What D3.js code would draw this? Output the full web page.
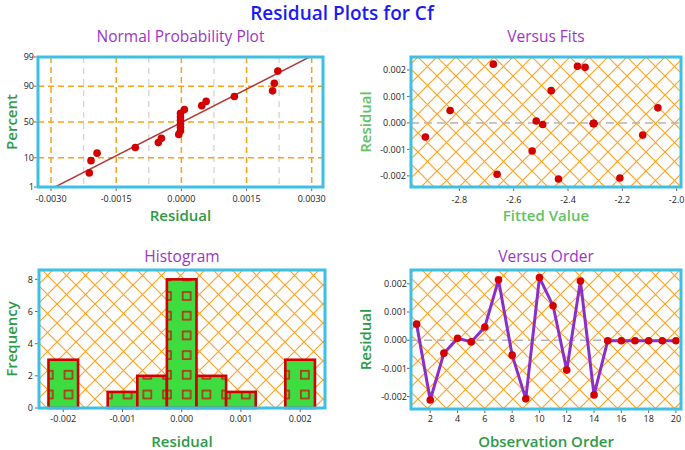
<!DOCTYPE html>
<html>
<head>
<meta charset="utf-8">
<script src="https://cdn.jsdelivr.net/npm/d3@7"></script>
<style>
  html, body { margin: 0; padding: 0; background: #ffffff; }
  svg { display: block; }
  text { font-family: "Open Sans", "Noto Sans", sans-serif; }
</style>
</head>
<body>
<svg id="chart" width="685" height="450"></svg>
<script>
// ---------------- DATA ----------------
const observations = [1, 2, 3, 4, 5, 6, 7, 8, 9, 10, 11, 12, 13, 14, 15, 16, 17, 18, 19, 20];
const residuals = [0.00057, -0.00212, -0.00046, 0.00007, -0.00006, 0.00047, 0.00214, -0.00053, -0.00208, 0.00222,
                   0.00122, -0.00106, 0.00210, -0.00194, -0.00002, -0.00002, -0.00002, -0.00002, -0.00002, -0.00002];
const fittedValues = [-2.069, -2.435, -2.125, -2.517, -2.493, -2.834, -2.365, -2.925, -2.209, -2.675,
                      -2.462, -2.532, -2.337, -2.661, -2.306, -2.306, -2.306, -2.306, -2.306, -2.306];
const nppPercent = [3.43, 8.33, 13.24, 18.14, 23.04, 27.94, 32.84, 37.75, 42.65, 47.55,
                    52.45, 57.35, 62.25, 67.16, 72.06, 76.96, 81.86, 86.76, 91.67, 96.57];
const histBinCenters = [-0.002, -0.0015, -0.001, -0.0005, 0.0, 0.0005, 0.001, 0.0015, 0.002];
const histCounts = [3, 0, 1, 2, 8, 2, 1, 0, 3];
const histBinWidth = 0.0005;

const nppXTicks = [-0.003, -0.0015, 0, 0.0015, 0.003];
const nppXTickLabels = ["-0.0030", "-0.0015", "0.0000", "0.0015", "0.0030"];
const nppXMinorTicks = [-0.00225, -0.00075, 0.00075, 0.00225];
const nppYTicks = [1, 10, 50, 90, 99];
const fitsXTicks = [-2.8, -2.6, -2.4, -2.2, -2.0];
const fitsXTickLabels = ["-2.8", "-2.6", "-2.4", "-2.2", "-2.0"];
const residTicks = [0.002, 0.001, 0, -0.001, -0.002];
const residTickLabels = ["0.002", "0.001", "0.000", "-0.001", "-0.002"];
const histXTicks = [-0.002, -0.001, 0, 0.001, 0.002];
const histXTickLabels = ["-0.002", "-0.001", "0.000", "0.001", "0.002"];
const histYTicks = [0, 2, 4, 6, 8];
const orderXTicks = [2, 4, 6, 8, 10, 12, 14, 16, 18, 20];

// ---------------- HELPERS ----------------
function probit(p) {
  // Acklam inverse normal CDF
  const a = [-3.969683028665376e+01, 2.209460984245205e+02, -2.759285104469687e+02, 1.383577518672690e+02, -3.066479806614716e+01, 2.506628277459239e+00];
  const b = [-5.447609879822406e+01, 1.615858368580409e+02, -1.556989798598866e+02, 6.680131188771972e+01, -1.328068155288572e+01];
  const c = [-7.784894002430293e-03, -3.223964580411365e-01, -2.400758277161838e+00, -2.549732539343734e+00, 4.374664141464968e+00, 2.938163982698783e+00];
  const d = [7.784695709041462e-03, 3.224671290700398e-01, 2.445134137142996e+00, 3.754408661907416e+00];
  const pl = 0.02425, ph = 1 - pl;
  let q, r;
  if (p < pl) {
    q = Math.sqrt(-2 * Math.log(p));
    return (((((c[0]*q+c[1])*q+c[2])*q+c[3])*q+c[4])*q+c[5]) / ((((d[0]*q+d[1])*q+d[2])*q+d[3])*q+1);
  } else if (p <= ph) {
    q = p - 0.5; r = q * q;
    return (((((a[0]*r+a[1])*r+a[2])*r+a[3])*r+a[4])*r+a[5])*q / (((((b[0]*r+b[1])*r+b[2])*r+b[3])*r+b[4])*r+1);
  } else {
    q = Math.sqrt(-2 * Math.log(1 - p));
    return -(((((c[0]*q+c[1])*q+c[2])*q+c[3])*q+c[4])*q+c[5]) / ((((d[0]*q+d[1])*q+d[2])*q+d[3])*q+1);
  }
}

const COL = {
  frame: "#3cc0e6",
  orange: "#f7a21b",
  hatch: "#ffa321",
  red: "#d20000",
  green: "#3fdc3f",
  title: "#1c1cf0",
  sub: "#9b35c9",
  axisDark: "#2e9a46",
  axisLight: "#62c262",
  tick: "#222",
  purple: "#8b2fc9",
  fitLine: "#b03a3a",
  zero: "#b4b4b4"
};

const svg = d3.select("#chart");
const defs = svg.append("defs");

// crosshatch pattern
const hp = defs.append("pattern").attr("id", "hatch").attr("patternUnits", "userSpaceOnUse")
  .attr("width", 19).attr("height", 19);
hp.append("rect").attr("width", 19).attr("height", 19).attr("fill", "#fff");
hp.append("path").attr("d", "M-2,-2 L21,21 M-2,21 L21,-2")
  .attr("stroke", COL.hatch).attr("stroke-width", 1.15).attr("fill", "none");

// bar pattern (green with red square outlines)
const sp = defs.append("pattern").attr("id", "sq").attr("patternUnits", "userSpaceOnUse")
  .attr("x", 58.65).attr("y", 364.95).attr("width", 19.7).attr("height", 19.7);
sp.append("rect").attr("width", 19.7).attr("height", 19.7).attr("fill", COL.green);
sp.append("rect").attr("x", 5.85).attr("y", 5.85).attr("width", 8).attr("height", 8)
  .attr("fill", "none").attr("stroke", "#c81414").attr("stroke-width", 1.4);

function clip(id, b) {
  defs.append("clipPath").attr("id", id).append("rect")
    .attr("x", b.l).attr("y", b.t).attr("width", b.r - b.l).attr("height", b.b - b.t);
}

function frame(b) {
  svg.append("rect").attr("x", b.l).attr("y", b.t).attr("width", b.r - b.l).attr("height", b.b - b.t)
    .attr("fill", "none").attr("stroke", COL.frame).attr("stroke-width", 3);
}

function xAxis(scale, b, ticks, labels, y) {
  const g = svg.append("g");
  ticks.forEach((t, i) => {
    const x = scale(t);
    g.append("line").attr("x1", x).attr("x2", x).attr("y1", b.b + 1.5).attr("y2", b.b + 4)
      .attr("stroke", "#666").attr("stroke-width", 1);
    g.append("text").attr("x", x).attr("y", y).attr("text-anchor", "middle")
      .attr("font-size", 9).attr("fill", COL.tick).text(labels[i]);
  });
}
function yAxis(scale, b, ticks, labels, xEnd) {
  const g = svg.append("g");
  ticks.forEach((t, i) => {
    const y = scale(t);
    g.append("line").attr("x1", b.l - 1.5).attr("x2", b.l - 4).attr("y1", y).attr("y2", y)
      .attr("stroke", "#666").attr("stroke-width", 1);
    g.append("text").attr("x", xEnd).attr("y", y + 3.2).attr("text-anchor", "end")
      .attr("font-size", 9).attr("fill", COL.tick).text(labels[i]);
  });
}
function titles(b, title, titleY, xlab, xlabY, xcol, ylab, ylabX, ycol) {
  const cx = (b.l + b.r) / 2, cy = (b.t + b.b) / 2;
  svg.append("text").attr("x", cx).attr("y", titleY).attr("text-anchor", "middle")
    .attr("font-size", 15.5).attr("fill", COL.sub).text(title);
  svg.append("text").attr("x", cx).attr("y", xlabY).attr("text-anchor", "middle")
    .attr("font-size", 15).attr("font-weight", 600).attr("fill", xcol).text(xlab);
  svg.append("text").attr("transform", `translate(${ylabX},${cy}) rotate(-90)`).attr("text-anchor", "middle")
    .attr("font-size", 15).attr("font-weight", 600).attr("fill", ycol).text(ylab);
}

// Main title
svg.append("text").attr("x", 342).attr("y", 20).attr("text-anchor", "middle")
  .attr("font-size", 19).attr("font-weight", 600).attr("fill", COL.title).text("Residual Plots for Cf");

// ---------------- PANEL 1: Normal probability plot ----------------
{
  const b = { l: 38, r: 323, t: 57, b: 187 };
  clip("c1", b);
  const x = d3.scaleLinear().domain([-0.0033, 0.00326]).range([b.l, b.r]);
  const y = d3.scaleLinear().domain([probit(0.01), probit(0.99)]).range([b.b, b.t]);
  svg.append("rect").attr("x", b.l).attr("y", b.t).attr("width", b.r - b.l).attr("height", b.b - b.t).attr("fill", "#fff");
  const g = svg.append("g").attr("clip-path", "url(#c1)");
  g.selectAll(".mg").data(nppXMinorTicks).join("line")
    .attr("x1", d => x(d)).attr("x2", d => x(d)).attr("y1", b.t).attr("y2", b.b)
    .attr("stroke", "#d4d4d4").attr("stroke-width", 1.3).attr("stroke-dasharray", "6,5");
  g.selectAll(".vg").data(nppXTicks).join("line")
    .attr("x1", d => x(d)).attr("x2", d => x(d)).attr("y1", b.t).attr("y2", b.b)
    .attr("stroke", COL.orange).attr("stroke-width", 1.5).attr("stroke-dasharray", "6,4");
  g.selectAll(".hg").data([10, 50, 90]).join("line")
    .attr("x1", b.l).attr("x2", b.r).attr("y1", d => y(probit(d / 100))).attr("y2", d => y(probit(d / 100)))
    .attr("stroke", COL.orange).attr("stroke-width", 1.5).attr("stroke-dasharray", "6,4");
  const mu = d3.mean(residuals), sd = d3.deviation(residuals);
  const zs = [probit(0.005), probit(0.995)];
  g.append("line").attr("x1", x(mu + sd * zs[0])).attr("y1", y(zs[0]))
    .attr("x2", x(mu + sd * zs[1])).attr("y2", y(zs[1]))
    .attr("stroke", COL.fitLine).attr("stroke-width", 1.5);
  const sorted = d3.sort(residuals);
  g.selectAll(".pt").data(sorted).join("circle")
    .attr("cx", d => x(d)).attr("cy", (d, i) => y(probit(nppPercent[i] / 100)))
    .attr("r", 3.8).attr("fill", COL.red);
  frame(b);
  xAxis(x, b, nppXTicks, nppXTickLabels, 202);
  yAxis(y, b, nppYTicks.map(p => probit(p / 100)), nppYTicks.map(String), 34);
  titles(b, "Normal Probability Plot", 42, "Residual", 221, COL.axisDark, "Percent", 17, COL.axisDark);
}

// ---------------- PANEL 2: Versus fits ----------------
{
  const b = { l: 411, r: 681, t: 57, b: 187 };
  clip("c2", b);
  const x = d3.scaleLinear().domain([-2.978, -1.984]).range([b.l, b.r]);
  const y = d3.scaleLinear().domain([-0.00242, 0.00249]).range([b.b, b.t]);
  svg.append("rect").attr("x", b.l).attr("y", b.t).attr("width", b.r - b.l).attr("height", b.b - b.t).attr("fill", "url(#hatch)");
  const g = svg.append("g").attr("clip-path", "url(#c2)");
  g.append("line").attr("x1", b.l).attr("x2", b.r).attr("y1", y(0)).attr("y2", y(0))
    .attr("stroke", COL.zero).attr("stroke-width", 1.5).attr("stroke-dasharray", "8,5");
  g.selectAll(".pt").data(residuals).join("circle")
    .attr("cx", (d, i) => x(fittedValues[i])).attr("cy", d => y(d))
    .attr("r", 3.8).attr("fill", COL.red);
  frame(b);
  xAxis(x, b, fitsXTicks, fitsXTickLabels, 203);
  yAxis(y, b, residTicks, residTickLabels, 406);
  titles(b, "Versus Fits", 42, "Fitted Value", 221, COL.axisLight, "Residual", 371, COL.axisLight);
}

// ---------------- PANEL 3: Histogram ----------------
{
  const b = { l: 39, r: 325, t: 270, b: 408 };
  const x = d3.scaleLinear().domain([-0.00241, 0.00242]).range([b.l, b.r]);
  const y = d3.scaleLinear().domain([0, 8.58]).range([b.b, b.t]);
  svg.append("rect").attr("x", b.l).attr("y", b.t).attr("width", b.r - b.l).attr("height", b.b - b.t).attr("fill", "url(#hatch)");
  const bins = histBinCenters.map((c, i) => ({ c, n: histCounts[i] })).filter(d => d.n > 0);
  svg.selectAll(".bar").data(bins).join("rect")
    .attr("x", d => x(d.c - histBinWidth / 2)).attr("width", d => x(d.c + histBinWidth / 2) - x(d.c - histBinWidth / 2))
    .attr("y", d => y(d.n)).attr("height", d => y(0) - y(d.n))
    .attr("fill", "url(#sq)").attr("stroke", COL.red).attr("stroke-width", 2.6);
  frame(b);
  xAxis(x, b, histXTicks, histXTickLabels, 422);
  yAxis(y, b, histYTicks, histYTicks.map(String), 33);
  titles(b, "Histogram", 262, "Residual", 447, COL.axisDark, "Frequency", 17, COL.axisDark);
}

// ---------------- PANEL 4: Versus order ----------------
{
  const b = { l: 411, r: 681, t: 270, b: 409 };
  clip("c4", b);
  const x = d3.scaleLinear().domain([0.59, 20.37]).range([b.l, b.r]);
  const y = d3.scaleLinear().domain([-0.00244, 0.00249]).range([b.b, b.t]);
  svg.append("rect").attr("x", b.l).attr("y", b.t).attr("width", b.r - b.l).attr("height", b.b - b.t).attr("fill", "url(#hatch)");
  const g = svg.append("g").attr("clip-path", "url(#c4)");
  g.append("line").attr("x1", b.l).attr("x2", b.r).attr("y1", y(0)).attr("y2", y(0))
    .attr("stroke", COL.zero).attr("stroke-width", 1.5).attr("stroke-dasharray", "8,5");
  const line = d3.line().x((d, i) => x(observations[i])).y(d => y(d));
  g.append("path").attr("d", line(residuals)).attr("fill", "none")
    .attr("stroke", COL.purple).attr("stroke-width", 3).attr("stroke-linejoin", "round");
  g.selectAll(".pt").data(residuals).join("circle")
    .attr("cx", (d, i) => x(observations[i])).attr("cy", d => y(d))
    .attr("r", 3.8).attr("fill", COL.red);
  frame(b);
  xAxis(x, b, orderXTicks, orderXTicks.map(String), 422);
  yAxis(y, b, residTicks, residTickLabels, 407);
  titles(b, "Versus Order", 262, "Observation Order", 447, COL.axisDark, "Residual", 371, COL.axisDark);
}
</script>
</body>
</html>
